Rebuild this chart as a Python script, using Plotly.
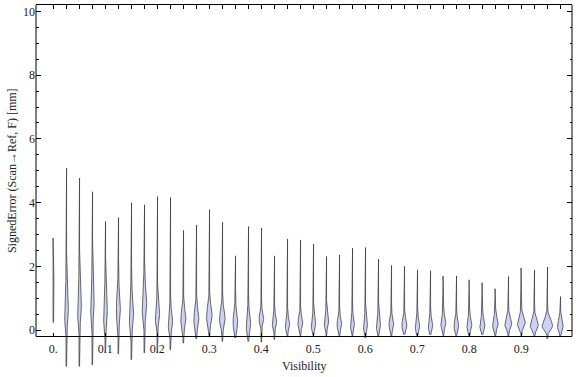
import numpy as np
import plotly.graph_objects as go

# ---- data ----
visibility = [0.0, 0.025, 0.05, 0.075, 0.1, 0.125, 0.15, 0.175, 0.2, 0.225,
              0.25, 0.275, 0.3, 0.325, 0.35, 0.375, 0.4, 0.425, 0.45, 0.475,
              0.5, 0.525, 0.55, 0.575, 0.6, 0.625, 0.65, 0.675, 0.7, 0.725,
              0.75, 0.775, 0.8, 0.825, 0.85, 0.875, 0.9, 0.925, 0.95, 0.975]
err_max = [2.89, 5.08, 4.77, 4.34, 3.41, 3.53, 4.00, 3.93, 4.19, 4.16,
           3.13, 3.30, 3.78, 3.38, 2.33, 3.25, 3.20, 2.33, 2.86, 2.83,
           2.70, 2.31, 2.36, 2.57, 2.59, 2.23, 2.03, 2.00, 1.89, 1.86,
           1.70, 1.70, 1.58, 1.49, 1.30, 1.68, 1.95, 1.89, 1.98, 1.05]
err_min = [0.24, -1.14, -1.14, -1.09, -0.72, -0.75, -0.93, -0.72, -0.72, -0.62,
           -0.41, -0.28, -0.22, -0.36, -0.25, -0.36, -0.38, -0.30, -0.22, -0.22,
           -0.20, -0.20, -0.22, -0.20, -0.25, -0.20, -0.20, -0.15, -0.20, -0.15,
           -0.20, -0.18, -0.20, -0.15, -0.20, -0.20, -0.20, -0.20, -0.28, -0.20]
err_mode = [1.05, 0.53, 0.64, 0.74, 0.48, 0.58, 0.43, 0.74, 0.43, 0.22,
            0.32, 0.32, 0.43, 0.32, 0.22, 0.17, 0.32, 0.22, 0.15, 0.20,
            0.15, 0.22, 0.16, 0.16, 0.11, 0.13, 0.15, 0.13, 0.11, 0.13,
            0.20, 0.11, 0.13, 0.13, 0.17, 0.17, 0.20, 0.13, 0.13, 0.11]
# peak half-width of each violin (pixels)
peak_halfwidth = [0.7, 1.8, 1.8, 1.6, 1.8, 1.8, 2.0, 2.2, 2.1, 2.1,
                  2.3, 2.3, 2.6, 2.6, 2.1, 2.1, 2.1, 2.1, 2.1, 2.2,
                  2.1, 2.1, 2.1, 1.9, 1.9, 1.9, 2.1, 2.3, 2.1, 2.1,
                  2.3, 2.1, 2.3, 2.3, 2.6, 3.2, 3.8, 3.8, 5.0, 2.6]
# spread of the bulge above / below the mode
spread_up = [0.5] * 8 + [0.3] * 8 + [0.2] * 24
spread_dn = [0.3] * 8 + [0.2] * 8 + [0.12] * 24

xticks = [0.0, 0.1, 0.2, 0.3, 0.4, 0.5, 0.6, 0.7, 0.8, 0.9]
xtick_text = ["0.", "0.1", "0.2", "0.3", "0.4", "0.5", "0.6", "0.7", "0.8", "0.9"]
yticks = [0, 2, 4, 6, 8, 10]
yminor = [0.5, 1.0, 1.5, 2.5, 3.0, 3.5, 4.5, 5.0, 5.5, 6.5, 7.0, 7.5, 8.5, 9.0, 9.5]

# ---- geometry ----
W, H = 576, 377
ML, MR, MT, MB = 36, 4, 5, 8
XMIN, XMAX = -0.0333, 0.9975
YMIN, YMAX = -1.22, 10.2
FRAME_BOTTOM = -0.2
x_per_px = (XMAX - XMIN) / (W - ML - MR)

FONT = "Liberation Serif, Times New Roman, serif"

fig = go.Figure()
for xc, lo, hi, m, hw, su, sd in zip(visibility, err_min, err_max, err_mode,
                                     peak_halfwidth, spread_up, spread_dn):
    v = np.linspace(lo, hi, 160)
    s = np.where(v > m, su, sd)
    half = (hw * np.exp(-0.5 * ((v - m) / s) ** 2) + 0.25) * x_per_px
    xs = np.concatenate([xc + half, (xc - half)[::-1]])
    ys = np.concatenate([v, v[::-1]])
    fig.add_trace(go.Scatter(
        x=xs, y=ys, mode="lines", fill="toself",
        fillcolor="rgb(204,210,245)",
        line=dict(color="rgba(60,60,60,0.85)", width=0.9),
        hoverinfo="skip", showlegend=False))

# empty trace to activate the mirrored (top/right) frame axes
fig.add_trace(go.Scatter(x=[], y=[], xaxis="x2", yaxis="y2", showlegend=False))

pos_bottom = (FRAME_BOTTOM - YMIN) / (YMAX - YMIN)
tickfont = dict(family=FONT, size=12, color="#222")

fig.update_layout(
    width=W, height=H,
    margin=dict(l=ML, r=MR, t=MT, b=MB, autoexpand=False),
    paper_bgcolor="white", plot_bgcolor="white",
    xaxis=dict(range=[XMIN, XMAX], anchor="free", position=pos_bottom,
               automargin=False,
               showline=True, linecolor="black", linewidth=1,
               ticks="inside", ticklen=3, tickcolor="black",
               tickvals=xticks, ticktext=xtick_text, tickfont=tickfont,
               ticklabelstandoff=1,
               showgrid=False, zeroline=False),
    xaxis2=dict(range=[XMIN, XMAX], overlaying="x", side="top", anchor="y2",
                automargin=False,
                showline=True, linecolor="black", linewidth=1,
                ticks="inside", ticklen=4, tickcolor="black",
                tickvals=visibility, showticklabels=False,
                showgrid=False, zeroline=False),
    yaxis=dict(range=[YMIN, YMAX], anchor="x", showline=False, automargin=False,
               ticks="inside", ticklen=5, tickcolor="black",
               tickvals=yticks, tickfont=tickfont,
               minor=dict(tickvals=yminor, ticklen=2.5, ticks="inside",
                          tickcolor="black"),
               showgrid=False, zeroline=False),
    yaxis2=dict(range=[YMIN, YMAX], overlaying="y", side="right", anchor="x2",
                automargin=False,
                showline=False, ticks="inside", ticklen=5, tickcolor="black",
                tickvals=yticks, showticklabels=False,
                minor=dict(tickvals=yminor, ticklen=2.5, ticks="inside",
                           tickcolor="black"),
                showgrid=False, zeroline=False),
    shapes=[
        dict(type="line", xref="paper", yref="y", x0=0, x1=0,
             y0=FRAME_BOTTOM, y1=YMAX, line=dict(color="black", width=1)),
        dict(type="line", xref="paper", yref="y", x0=1, x1=1,
             y0=FRAME_BOTTOM, y1=YMAX, line=dict(color="black", width=1)),
    ],
    annotations=[
        dict(text="Visibility", xref="paper", yref="paper", x=0.5, y=0.008,
             xanchor="center", yanchor="middle", showarrow=False,
             font=dict(family=FONT, size=12, color="#222")),
        dict(text="SignedError (Scan\u2192Ref, F) [mm]", xref="paper", yref="paper",
             x=-0.046, y=(5.0 - YMIN) / (YMAX - YMIN), textangle=-90,
             xanchor="center", yanchor="middle", showarrow=False,
             font=dict(family=FONT, size=12, color="#222")),
    ],
)

fig.write_html("out.html",
               config={"displayModeBar": False},
               post_script="document.body.style.margin='0';"
                           "document.body.style.padding='0';")
